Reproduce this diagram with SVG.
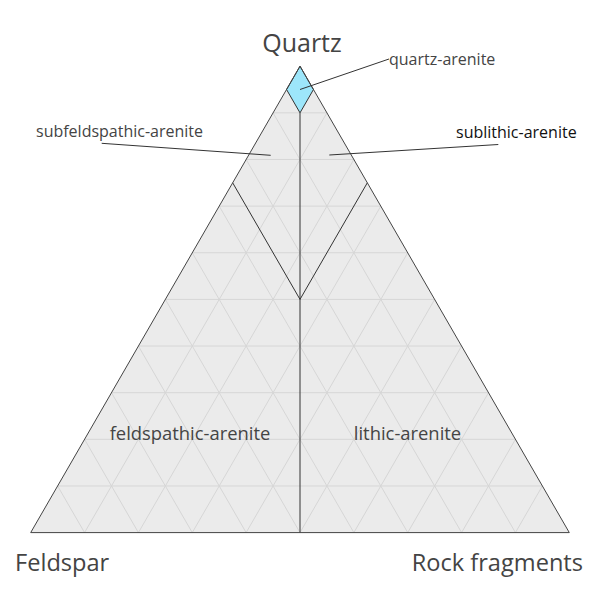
<svg xmlns="http://www.w3.org/2000/svg" width="600" height="600" viewBox="0 0 600 600">
<style>
.grid{stroke:#d6d6d6;stroke-width:1;fill:none}
.edge{stroke:#444;stroke-width:1;fill:none}
.bound{stroke:#333;stroke-width:1;fill:none}
.ptr{stroke:#333;stroke-width:1;fill:none}
text{font-family:"Open Sans","Liberation Sans",sans-serif;fill:#444}
.axis{font-size:23.6px}
.lbl{font-size:16px}
.reg{font-size:18.4px}
</style>
<rect width="600" height="600" fill="#fff"/>
<g id="triangle">
<polygon points="300,66.2 30.7,532.6 569.3,532.6" fill="#ebebeb"/>
</g>
<g id="grid" class="grid">
<line x1="57.63" y1="485.96" x2="542.37" y2="485.96"/>
<line x1="84.56" y1="439.32" x2="515.44" y2="439.32"/>
<line x1="111.49" y1="392.68" x2="488.51" y2="392.68"/>
<line x1="138.42" y1="346.04" x2="461.58" y2="346.04"/>
<line x1="165.35" y1="299.4" x2="434.65" y2="299.4"/>
<line x1="192.28" y1="252.76" x2="407.72" y2="252.76"/>
<line x1="219.21" y1="206.12" x2="380.79" y2="206.12"/>
<line x1="246.14" y1="159.48" x2="353.86" y2="159.48"/>
<line x1="273.07" y1="112.84" x2="326.93" y2="112.84"/>
<line x1="84.56" y1="532.6" x2="326.93" y2="112.84"/>
<line x1="138.42" y1="532.6" x2="353.86" y2="159.48"/>
<line x1="192.28" y1="532.6" x2="380.79" y2="206.12"/>
<line x1="246.14" y1="532.6" x2="407.72" y2="252.76"/>
<line x1="300" y1="532.6" x2="434.65" y2="299.4"/>
<line x1="353.86" y1="532.6" x2="461.58" y2="346.04"/>
<line x1="407.72" y1="532.6" x2="488.51" y2="392.68"/>
<line x1="461.58" y1="532.6" x2="515.44" y2="439.32"/>
<line x1="515.44" y1="532.6" x2="542.37" y2="485.96"/>
<line x1="84.56" y1="532.6" x2="57.63" y2="485.96"/>
<line x1="138.42" y1="532.6" x2="84.56" y2="439.32"/>
<line x1="192.28" y1="532.6" x2="111.49" y2="392.68"/>
<line x1="246.14" y1="532.6" x2="138.42" y2="346.04"/>
<line x1="300" y1="532.6" x2="165.35" y2="299.4"/>
<line x1="353.86" y1="532.6" x2="192.28" y2="252.76"/>
<line x1="407.72" y1="532.6" x2="219.21" y2="206.12"/>
<line x1="461.58" y1="532.6" x2="246.14" y2="159.48"/>
<line x1="515.44" y1="532.6" x2="273.07" y2="112.84"/>
</g>
<g id="quartz-arenite-region">
<polygon points="300,66.2 286.54,89.52 300,112.84 313.46,89.52" fill="#9de6fa" stroke="#333" stroke-width="1"/>
</g>
<g id="boundaries" class="bound">
<line x1="300" y1="112.84" x2="300" y2="532.6"/>
<line x1="232.68" y1="182.8" x2="300" y2="299.4"/>
<line x1="367.32" y1="182.8" x2="300" y2="299.4"/>
</g>
<g id="axes" class="edge">
<polygon points="300,66.2 30.7,532.6 569.3,532.6"/>
</g>
<g id="connectors" class="ptr">
<line x1="300" y1="89.5" x2="389" y2="59"/>
<line x1="329.3" y1="155" x2="498.3" y2="144.5"/>
<line x1="270.7" y1="155.3" x2="101.7" y2="143.3"/>
</g>
<g id="label-quartz"><text x="302" y="51.5" text-anchor="middle" style="font-size:25px">Quartz</text></g>
<g id="label-feldspar"><text class="axis" x="15" y="570.5">Feldspar</text></g>
<g id="label-rock-fragments"><text class="axis" x="583" y="570.5" text-anchor="end">Rock fragments</text></g>
<g id="label-quartz-arenite"><text class="lbl" x="389" y="64.5">quartz-arenite</text></g>
<g id="label-sublithic-arenite"><text class="lbl" x="456" y="138" style="fill:#111">sublithic-arenite</text></g>
<g id="label-subfeldspathic-arenite"><text class="lbl" x="36" y="137">subfeldspathic-arenite</text></g>
<g id="label-feldspathic-arenite"><text class="reg" x="190" y="439.5" text-anchor="middle">feldspathic-arenite</text></g>
<g id="label-lithic-arenite"><text class="reg" x="407.5" y="439.5" text-anchor="middle">lithic-arenite</text></g>
</svg>
